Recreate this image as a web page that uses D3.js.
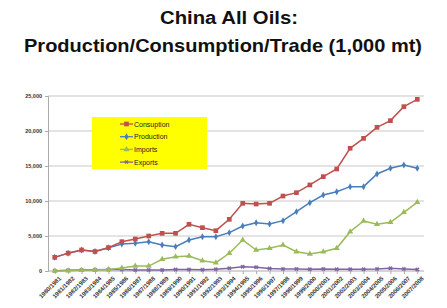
<!DOCTYPE html>
<html><head><meta charset="utf-8">
<script src="https://cdn.jsdelivr.net/npm/d3@7"></script>
<style>body{margin:0;background:#fff;}svg{display:block;font-family:"Liberation Sans",Arial,sans-serif;}</style>
</head><body><svg id="c" width="447" height="308"></svg>
<script>
const years = ["1980/1981","1981/1982","1982/1983","1983/1984","1984/1985","1985/1986","1986/1987","1987/1988","1988/1989","1989/1990","1990/1991","1991/1992","1992/1993","1993/1994","1994/1995","1995/1996","1996/1997","1997/1998","1998/1999","1999/2000","2000/2001","2001/2002","2002/2003","2003/2004","2004/2005","2005/2006","2006/2007","2007/2008"];
const consumption = [1950,2550,3000,2780,3330,4190,4570,5000,5380,5380,6670,6190,5760,7380,9670,9570,9670,10710,11190,12290,13480,14570,17530,18950,20520,21480,23480,24520];
const production  = [1950,2550,3000,2780,3330,3860,3950,4190,3710,3480,4430,4900,4900,5480,6430,6900,6710,7190,8480,9760,10860,11330,12050,12050,13860,14670,15140,14670];
const imports     = [0,50,100,150,200,430,710,700,1670,2050,2140,1470,1190,2530,4430,3000,3240,3710,2760,2430,2760,3240,5620,7140,6670,6950,8380,9810];
const exports     = [50,100,150,180,200,200,150,130,150,200,200,180,250,400,600,550,350,300,300,250,300,250,250,250,300,400,300,200];
const yTicks = [0,5000,10000,15000,20000,25000];
const legendLabels = ["Consuption","Production","Imports","Exports"];
const colors = ["#c0504d","#4a7ebb","#9bbb59","#8064a2"];

const svg = d3.select("#c");
const L=48,R=424,T=96,B=271;
const x = d3.scalePoint().domain(years).range([L,R]).padding(0.5);
const y = d3.scaleLinear().domain([0,25000]).range([B,T]);

svg.append("text").attr("x",229).attr("y",23.5).attr("text-anchor","middle")
  .attr("font-size",17.5).attr("font-weight","bold").attr("fill","#111")
  .attr("textLength",138).attr("lengthAdjust","spacingAndGlyphs").text("China All Oils:");
svg.append("text").attr("x",223).attr("y",51.5).attr("text-anchor","middle")
  .attr("font-size",19).attr("font-weight","bold").attr("fill","#111")
  .attr("textLength",398).attr("lengthAdjust","spacingAndGlyphs").text("Production/Consumption/Trade (1,000 mt)");

// grid
svg.append("g").selectAll("line").data(yTicks.filter(d=>d>0)).join("line")
  .attr("x1",L).attr("x2",R).attr("y1",d=>y(d)).attr("y2",d=>y(d))
  .attr("stroke","#c8c8c8").attr("stroke-width",1);

// y axis
const ya = svg.append("g").attr("transform",`translate(${L},0)`)
  .call(d3.axisLeft(y).tickValues(yTicks).tickFormat(d3.format(",")).tickSize(3).tickPadding(3));
ya.select(".domain").attr("stroke","#aaa");
ya.selectAll(".tick line").attr("stroke","#aaa");
ya.selectAll("text").attr("font-size",5.5).attr("font-weight","bold").attr("fill","#333").attr("font-family","Liberation Sans, Arial");

// x axis
const xa = svg.append("g").attr("transform",`translate(0,${B})`)
  .call(d3.axisBottom(x).tickSize(3).tickPadding(2));
xa.select(".domain").attr("stroke","#aaa").attr("d",`M${L},0H${R}`);
xa.selectAll(".tick line").attr("stroke","#aaa");
xa.selectAll("text").attr("font-size",6).attr("font-weight","bold").attr("fill","#333")
  .attr("font-family","Liberation Sans, Arial")
  .attr("text-anchor","end").attr("dx",-1).attr("dy",5).attr("transform","rotate(-45)");

const data = [consumption,production,imports,exports];
const line = d3.line().x((d,i)=>x(years[i])).y(d=>y(d));
const symbols = [d3.symbolSquare, d3.symbolDiamond, d3.symbolTriangle, d3.symbolCross];
const sizes = [22,14,16,10];
[3,2,1,0].forEach(k=>{
  const g = svg.append("g");
  g.append("path").datum(data[k]).attr("d",line).attr("fill","none")
    .attr("stroke",colors[k]).attr("stroke-width",1.5);
  g.selectAll("path.m").data(data[k]).join("path").attr("class","m")
    .attr("transform",(d,i)=>`translate(${x(years[i])},${y(d)})${k==3?" rotate(45)":""}`)
    .attr("d",d3.symbol().type(symbols[k]).size(sizes[k]))
    .attr("fill",colors[k]).attr("stroke",k==3?colors[k]:"none").attr("stroke-width",0.3);
});

// legend
const lg = svg.append("g");
lg.append("rect").attr("x",92).attr("y",117).attr("width",115).attr("height",52).attr("fill","#ffff00");
legendLabels.forEach((t,k)=>{
  const yy = 124 + k*12.7;
  lg.append("line").attr("x1",120).attr("x2",133).attr("y1",yy).attr("y2",yy).attr("stroke",colors[k]).attr("stroke-width",1.3);
  lg.append("path").attr("transform",`translate(126.5,${yy})${k==3?" rotate(45)":""}`)
    .attr("d",d3.symbol().type(symbols[k]).size(sizes[k])).attr("fill",colors[k]);
  lg.append("text").attr("x",134).attr("y",yy+2.5).attr("font-size",7).attr("fill","#222").text(t);
});
</script></body></html>
